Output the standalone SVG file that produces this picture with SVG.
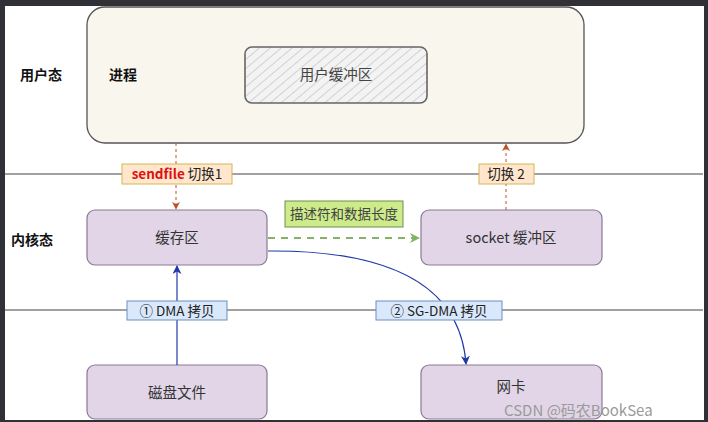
<svg xmlns="http://www.w3.org/2000/svg" width="708" height="422" viewBox="0 0 708 422">
<defs>
<pattern id="hatch" patternUnits="userSpaceOnUse" width="7" height="7" patternTransform="rotate(50)">
<rect width="7" height="7" fill="#f3f3f3"/>
<line x1="0" y1="0" x2="0" y2="7" stroke="#b0b0b0" stroke-width="1"/>
</pattern>
<marker id="arRed" viewBox="0 0 10 10" refX="9" refY="5" markerWidth="8" markerHeight="8" orient="auto-start-reverse" markerUnits="userSpaceOnUse">
<path d="M0,0 L10,5 L0,10 L3,5 Z" fill="#c0502a"/>
</marker>
<marker id="arGreen" viewBox="0 0 10 10" refX="9" refY="5" markerWidth="10" markerHeight="10" orient="auto" markerUnits="userSpaceOnUse">
<path d="M0,0 L10,5 L0,10 L3,5 Z" fill="#82b366"/>
</marker>
<marker id="arBlue" viewBox="0 0 10 10" refX="9" refY="5" markerWidth="9" markerHeight="9" orient="auto" markerUnits="userSpaceOnUse">
<path d="M0,0 L10,5 L0,10 L3,5 Z" fill="#1f3aa8"/>
</marker>
</defs>
<style>
text{font-family:"Noto Sans CJK SC","Noto Sans",sans-serif;}
.lbl{font-size:14px;font-weight:bold;fill:#111;}
.node{fill:#e1d5e7;stroke:#8a7a92;stroke-width:1.2;}
.nt{font-size:14.5px;fill:#333;text-anchor:middle;}
.sep{stroke:#444;stroke-width:1.2;}
.tag{font-size:13.5px;fill:#222;text-anchor:middle;}
</style>
<rect x="0" y="0" width="708" height="422" fill="#2f3136"/>
<rect x="5" y="6" width="699" height="414" fill="#ffffff"/>

<g id="separators">
<line class="sep" x1="5" y1="174" x2="703" y2="174"/>
<line class="sep" x1="5" y1="310" x2="703" y2="310"/>
</g>

<g id="process">
<rect x="87" y="7" width="497" height="136" rx="18" fill="#f9f7ed" stroke="#555" stroke-width="1.3"/>
<text class="lbl" x="109" y="80">进程</text>
</g>
<g id="user-buffer">
<rect x="245" y="47" width="182" height="56" rx="7" fill="url(#hatch)" stroke="#666" stroke-width="1.6"/>
<text x="336" y="80" text-anchor="middle" style="font-size:14.5px;fill:#444">用户缓冲区</text>
</g>
<text class="lbl" x="20" y="80">用户态</text>
<text class="lbl" x="11" y="245">内核态</text>

<g id="cache">
<rect class="node" x="87" y="210" width="180" height="55" rx="8"/>
<text class="nt" x="177" y="243">缓存区</text>
</g>
<g id="socket-buffer">
<rect class="node" x="421" y="210" width="181" height="55" rx="8"/>
<text class="nt" x="511" y="243">socket 缓冲区</text>
</g>
<g id="disk">
<rect class="node" x="87" y="365" width="180" height="54" rx="8"/>
<text class="nt" x="177" y="398">磁盘文件</text>
</g>
<g id="nic">
<rect class="node" x="421" y="365" width="181" height="54" rx="8"/>
<text class="nt" x="511" y="392">网卡</text>
</g>

<g id="connectors">
<line x1="176" y1="143" x2="176" y2="209" stroke="#c0502a" stroke-width="1" stroke-dasharray="3,3" marker-end="url(#arRed)"/>
<line x1="506" y1="210" x2="506" y2="144" stroke="#c0502a" stroke-width="1" stroke-dasharray="3,3" marker-end="url(#arRed)"/>
<line x1="268" y1="238" x2="419" y2="238" stroke="#82b366" stroke-width="2" stroke-dasharray="7,6" marker-end="url(#arGreen)"/>
<line x1="177" y1="365" x2="177" y2="266" stroke="#1f3aa8" stroke-width="1.2" marker-end="url(#arBlue)"/>
<path d="M268,251 C380,250 460,280 466,364" fill="none" stroke="#1f3aa8" stroke-width="1.2" marker-end="url(#arBlue)"/>
</g>

<g id="label-sendfile">
<rect x="122" y="164" width="110" height="20" fill="#ffe6cc" stroke="#d6b656" stroke-width="1"/>
<text x="177" y="179" class="tag"><tspan fill="#e01010" font-weight="bold">sendfile</tspan> 切换1</text>
</g>
<g id="label-switch2">
<rect x="479" y="164" width="55" height="20" fill="#ffe6cc" stroke="#d6b656" stroke-width="1"/>
<text x="506" y="179" class="tag">切换 2</text>
</g>
<g id="label-desc">
<rect x="285" y="201" width="118" height="26" fill="#cdeb8b" stroke="#6d8f4a" stroke-width="1"/>
<text x="344" y="219" class="tag" style="fill:#444">描述符和数据长度</text>
</g>
<g id="label-dma">
<rect x="127" y="301" width="100" height="19" fill="#dae8fc" stroke="#6c8ebf" stroke-width="1"/>
<text x="177" y="316" class="tag">① DMA 拷贝</text>
</g>
<g id="label-sgdma">
<rect x="376" y="301" width="126" height="19" fill="#dae8fc" stroke="#6c8ebf" stroke-width="1"/>
<text x="439" y="316" class="tag">② SG-DMA 拷贝</text>
</g>

<text x="504" y="416" style="font-size:15px;fill:#9a9a9a" font-family="'Liberation Sans','Noto Sans CJK SC',sans-serif">CSDN @码农BookSea</text>
</svg>
